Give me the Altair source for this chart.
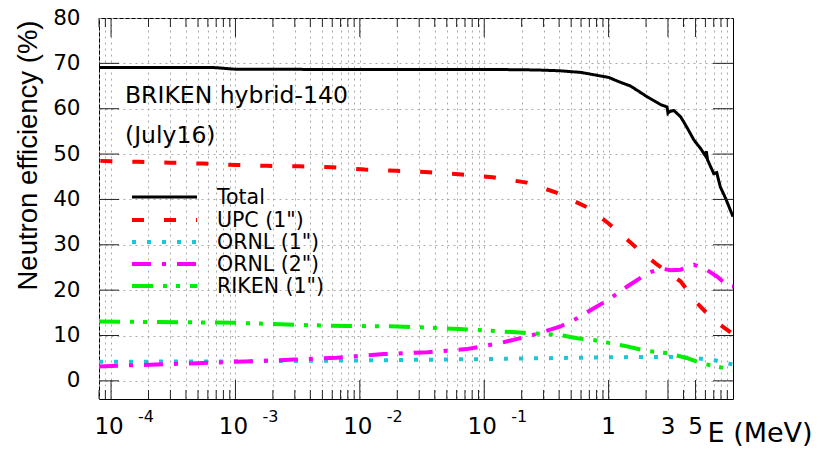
import altair as alt
import pandas as pd

# ---------------- data ----------------
total_E = [8e-5, 1e-4, 3e-4, 6e-4, 7e-4, 1e-3, 1e-2, 0.1, 0.2, 0.3, 0.41, 0.6, 1.0, 1.25, 1.5,
           2.05, 2.62, 2.95, 3.0, 3.1, 3.35, 3.8, 4.3, 4.85, 5.5, 6.0, 6.1, 6.25, 7.0, 7.4,
           7.9, 8.7, 10.0]
total_V = [69.1, 69.1, 69.1, 69.1, 69.05, 68.7, 68.65, 68.65, 68.6, 68.5, 68.35, 68.0, 66.9,
           65.8, 65.0, 62.6, 60.9, 60.4, 59.0, 59.4, 59.6, 58.2, 55.7, 53.1, 51.2, 49.6,
           50.6, 48.7, 45.7, 45.9, 42.8, 40.3, 36.2]

upc_E = [8.2e-5, 1.66e-4, 2.97e-4, 5.45e-4, 1e-3, 1.8e-3, 3.3e-3, 6e-3, 1.1e-2, 1.97e-2,
         3.6e-2, 6.6e-2, 0.117, 0.22, 0.38, 0.68, 1.0, 1.7, 2.46, 3.0, 3.8, 5.15, 7.0, 10.0]
upc_V = [48.5, 48.3, 48.1, 47.9, 47.6, 47.4, 47.3, 47.1, 46.6, 46.3, 46.0, 45.5, 44.9, 43.7,
         41.5, 38.2, 34.7, 29.2, 25.6, 24.0, 21.9, 17.1, 13.4, 10.3]

ornl1_E = [8e-5, 1e-3, 1e-2, 0.1, 1.0, 3.0, 5.0, 7.0, 10.0]
ornl1_V = [4.2, 4.3, 4.5, 4.8, 5.2, 5.3, 5.0, 4.6, 3.6]

ornl2_E = [8e-5, 1e-4, 3e-4, 5e-4, 1e-3, 3e-3, 6.5e-3, 1.55e-2, 3.5e-2, 7.2e-2, 0.133, 0.245,
           0.41, 0.56, 0.76, 1.0, 1.41, 2.05, 2.62, 3.15, 3.8, 4.85, 6.2, 7.45, 9.2, 10.0]
ornl2_V = [3.15, 3.3, 3.7, 3.9, 4.2, 4.7, 5.1, 5.9, 6.3, 7.0, 8.3, 10.1, 12.0, 13.8, 16.0,
           17.9, 20.8, 23.7, 24.8, 24.4, 24.5, 25.6, 24.4, 23.0, 20.8, 20.8]

riken_E = [8e-5, 1e-3, 3.5e-3, 8e-3, 2e-2, 6.3e-2, 0.18, 0.41, 0.56, 0.76, 1.41, 2.0, 3.0,
           4.3, 5.5, 10.0]
riken_V = [13.1, 12.8, 12.3, 12.1, 12.0, 11.45, 10.7, 10.1, 9.4, 9.0, 7.6, 6.6, 6.1, 5.0,
           3.9, 2.4]

series_names = ["Total", "UPC (1\")", "ORNL (1\")", "ORNL (2\")", "RIKEN (1\")"]
series_E = [total_E, upc_E, ornl1_E, ornl2_E, riken_E]
series_V = [total_V, upc_V, ornl1_V, ornl2_V, riken_V]
series_color = ["#000000", "#ff0000", "#1cc6d6", "#ff00ff", "#00ee00"]
series_width = [3, 4, 4, 4, 4]
series_dash = [[1, 0], [12, 20], [4, 11], [19, 11, 4, 11], [21, 10, 4, 9, 4, 10]]

major_ticks = [1e-4, 1e-3, 1e-2, 1e-1, 1, 3, 5]
minor_ticks = [8e-5, 9e-5] + [k * 10.0 ** d for d in (-4, -3, -2, -1) for k in range(2, 10)] + [2, 4, 6, 7, 8, 9]
pow_ticks = [1e-4, 1e-3, 1e-2, 1e-1]
pow_exp = ["-4", "-3", "-2", "-1"]
plain_ticks = [1, 3, 5]
plain_text = ["1", "3", "5"]
y_ticks = [0, 10, 20, 30, 40, 50, 60, 70, 80]

notes = ["BRIKEN hybrid-140", "(July16)"]

# ---------------- layout ----------------
W, H = 634, 381
FONT = "DejaVu Sans"

xscale = alt.Scale(type="log", domain=[8e-5, 10], nice=False, zero=False)
yscale = alt.Scale(domain=[-4, 80], nice=False, zero=False)

xaxis = alt.Axis(values=major_ticks + minor_ticks, grid=True, gridDash=[2, 4],
                 gridColor="#a9a9a9", gridWidth=1, labels=False, ticks=False, domain=False,
                 title="E (MeV)", titleX=608, titleY=42, titleAlign="left",
                 titleBaseline="alphabetic", titleFont=FONT, titleFontSize=27,
                 titleFontWeight="normal", titleColor="black")
yaxis = alt.Axis(values=y_ticks, grid=True, gridDash=[2, 4], gridColor="#a9a9a9",
                 gridWidth=1, ticks=False, tickSize=0, domain=False, labelPadding=19,
                 labelFont=FONT, labelFontSize=21.5, labelColor="black",
                 title="Neutron efficiency (%)", titleAngle=270, titleX=-71, titleY=137,
                 titleAlign="center", titleBaseline="middle", titleFont="Liberation Sans",
                 titleFontSize=27.5, titleFontWeight="normal", titleColor="black")


def X(field):
    return alt.X(field, type="quantitative", scale=xscale, axis=xaxis)


def Y(field):
    return alt.Y(field, type="quantitative", scale=yscale, axis=yaxis)


layers = []
for name, E, V, col, sw, dash in zip(series_names, series_E, series_V, series_color,
                                     series_width, series_dash):
    df = pd.DataFrame({"E": E, "V": V, "series": name})
    layers.append(
        alt.Chart(df).mark_line(color=col, strokeWidth=sw, strokeDash=dash,
                                strokeCap="butt", clip=True, interpolate="linear")
        .encode(x=X("E"), y=Y("V"))
    )

maj_df = pd.DataFrame({"t": major_ticks})
min_df = pd.DataFrame({"t": minor_ticks})
yt_df = pd.DataFrame({"t": y_ticks[:-1]})
tick_color = "#222222"
for df, ln in ((maj_df, 19), (min_df, 9)):
    layers.append(alt.Chart(df).mark_rule(color=tick_color, strokeWidth=1)
                  .encode(x=X("t"), y=alt.value(H), y2=alt.value(H - ln)))
    layers.append(alt.Chart(df).mark_rule(color=tick_color, strokeWidth=1)
                  .encode(x=X("t"), y=alt.value(0), y2=alt.value(ln)))
layers.append(alt.Chart(yt_df).mark_rule(color=tick_color, strokeWidth=1)
              .encode(y=Y("t"), x=alt.value(0), x2=alt.value(20)))
layers.append(alt.Chart(yt_df).mark_rule(color=tick_color, strokeWidth=1)
              .encode(y=Y("t"), x=alt.value(W), x2=alt.value(W - 20)))

# x tick labels (10^n with superscript, and plain 1, 3, 5)
pow_df = pd.DataFrame({"t": pow_ticks, "base": ["10"] * 4, "exp": pow_exp})
plain_df = pd.DataFrame({"t": plain_ticks, "lab": plain_text})
layers.append(alt.Chart(pow_df).mark_text(font=FONT, fontSize=23, align="center",
                                          baseline="alphabetic", dx=-2, color="black")
              .encode(x=X("t"), y=alt.value(H + 35), text="base:N"))
layers.append(alt.Chart(pow_df).mark_text(font=FONT, fontSize=16, align="left",
                                          baseline="alphabetic", dx=27, color="black")
              .encode(x=X("t"), y=alt.value(H + 23), text="exp:N"))
layers.append(alt.Chart(plain_df).mark_text(font=FONT, fontSize=23, align="center",
                                            baseline="alphabetic", color="black")
              .encode(x=X("t"), y=alt.value(H + 35), text="lab:N"))

# annotations
for txt, yy in zip(notes, (85, 125)):
    layers.append(alt.Chart(pd.DataFrame({"s": [txt]})).mark_text(
        font=FONT, fontSize=23.5, align="left", baseline="alphabetic", color="black")
        .encode(x=alt.value(26), y=alt.value(yy), text="s:N"))

# legend (manual, inside the plot)
leg_y = [179, 202, 224, 246, 268]
for name, col, sw, dash, yy in zip(series_names, series_color, series_width, series_dash, leg_y):
    layers.append(alt.Chart(pd.DataFrame({"s": [name]})).mark_rule(
        color=col, strokeWidth=sw, strokeDash=dash, strokeCap="butt")
        .encode(x=alt.value(33), x2=alt.value(98), y=alt.value(yy)))
    layers.append(alt.Chart(pd.DataFrame({"s": [name]})).mark_text(
        font=FONT, fontSize=20.5, align="left", baseline="middle", color="black")
        .encode(x=alt.value(118), y=alt.value(yy + 1), text="s:N"))

chart = alt.layer(*layers).properties(
    width=W, height=H,
    padding={"left": 99, "top": 18, "right": 87, "bottom": 50},
    autosize=alt.AutoSizeParams(type="none"),
    background="white",
).configure_view(stroke="black", strokeWidth=1)

chart.save("out.html", embed_options={"renderer": "svg", "actions": False})
